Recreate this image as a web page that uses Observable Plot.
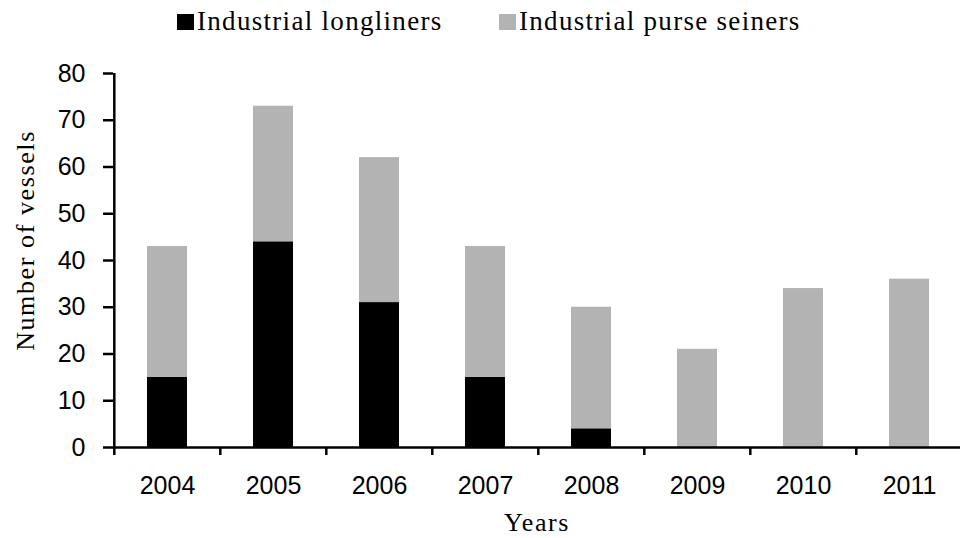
<!DOCTYPE html>
<html>
<head>
<meta charset="utf-8">
<script src="https://cdn.jsdelivr.net/npm/d3@7"></script>
<script src="https://cdn.jsdelivr.net/npm/@observablehq/plot@0.6"></script>
<style>
  html, body { margin: 0; padding: 0; background: #fff; }
  #legend svg, #chart svg { display: block; }
</style>
</head>
<body>
<div id="legend"></div>
<div id="chart"></div>
<script>
const years = ["2004", "2005", "2006", "2007", "2008", "2009", "2010", "2011"];
const longliners = [15, 44, 31, 15, 4, 0, 0, 0];
const purseSeiners = [28, 29, 31, 28, 26, 21, 34, 36];
const seriesNames = ["Industrial longliners", "Industrial purse seiners"];
const seriesColors = ["#000000", "#b3b3b3"];
const yTicks = [0, 10, 20, 30, 40, 50, 60, 70, 80];

const data = [];
years.forEach((y, i) => {
  data.push({year: y, series: seriesNames[0], value: longliners[i]});
  data.push({year: y, series: seriesNames[1], value: purseSeiners[i]});
});

// legend (SVG, above the chart)
const legendLeft = [177, 499];
const lsvg = d3.select("#legend").append("svg").attr("width", 960).attr("height", 45);
seriesNames.forEach((name, i) => {
  const g = lsvg.append("g").attr("transform", `translate(${legendLeft[i]},0)`);
  g.append("rect").attr("x", 0).attr("y", 14).attr("width", 17).attr("height", 16).attr("fill", seriesColors[i]);
  g.append("text").attr("x", 20).attr("y", 30)
    .attr("font-family", "Liberation Serif").attr("font-size", 27)
    .style("letter-spacing", "1.3px").attr("fill", "#000").text(name);
});

const marginLeft = 113;
const step = (964 - marginLeft) / years.length;

const chart = Plot.plot({
  width: 960,
  height: 493,
  marginLeft: marginLeft,
  marginRight: 0,
  marginTop: 28,
  marginBottom: 91,
  style: {fontFamily: "Liberation Sans", fontSize: "25px", color: "#000", background: "#fff"},
  x: {domain: years, range: [marginLeft, 964], paddingInner: 0.62, paddingOuter: 0.31},
  y: {domain: [0, 80]},
  color: {domain: seriesNames, range: seriesColors},
  marks: [
    Plot.barY(data, Plot.stackY({x: "year", y: "value", fill: "series", order: seriesNames})),
    Plot.ruleY([0], {stroke: "#000", strokeWidth: 2.5}),
    Plot.ruleX([years[0]], {y1: 0, y2: 80, dx: -step / 2, stroke: "#000", strokeWidth: 2.5}),
    Plot.axisY({ticks: yTicks, tickSize: 10, tickPadding: 18, strokeWidth: 2.5, label: null, fontSize: 25}),
    Plot.axisX({tickSize: 8, tickFormat: () => "", dx: -step / 2, strokeWidth: 2.5, label: null}),
    Plot.axisX({tickSize: 0, tickPadding: 29, label: null, fontSize: 25}),
    Plot.text(["Number of vessels"], {frameAnchor: "left", textAnchor: "middle", rotate: -90, dx: -88, dy: -20, fontFamily: "Liberation Serif", fontSize: 26, fill: "#000"}),
    Plot.text(["Years"], {frameAnchor: "bottom", textAnchor: "middle", lineAnchor: "bottom", dy: 83, fontFamily: "Liberation Serif", fontSize: 26, fill: "#000"})
  ]
});
document.getElementById("chart").appendChild(chart);
chart.querySelectorAll('g[font-family="Liberation Serif"] text').forEach(t => { t.style.letterSpacing = "1.6px"; });
</script>
</body>
</html>
